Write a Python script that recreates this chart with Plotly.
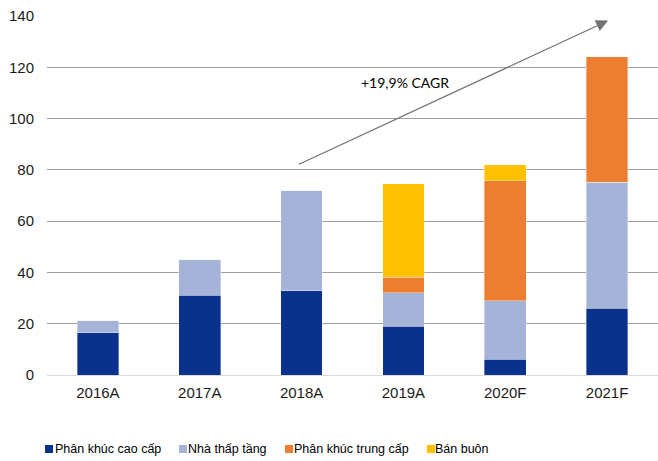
import plotly.graph_objects as go

categories = ["2016A", "2017A", "2018A", "2019A", "2020F", "2021F"]
series_names = ["Phân khúc cao cấp", "Nhà thấp tầng", "Phân khúc trung cấp", "Bán buôn"]
premium = [16.5, 31.1, 32.9, 19.1, 6.1, 26.0]
lowrise = [4.8, 14.0, 39.1, 13.0, 22.8, 49.1]
midrange = [0, 0, 0, 6.1, 46.9, 49.1]
wholesale = [0, 0, 0, 36.4, 6.1, 0]
colors = ["#0A318C", "#A6B3D8", "#ED7D31", "#FFC000"]
y_ticks = [0, 20, 40, 60, 80, 100, 120, 140]
cagr_label = "+19,9% CAGR"

W, H = 658, 461
ML, MR, MT, MB = 47, 0, 16, 86
PW, PH = W - ML - MR, H - MT - MB


def px_to_paper(px, py):
    return (px - ML) / PW, (H - MB - py) / PH


fig = go.Figure()
for name, vals, col in zip(series_names, [premium, lowrise, midrange, wholesale], colors):
    fig.add_trace(go.Bar(
        x=categories, y=vals, name=name,
        marker=dict(color=col, line=dict(color="rgba(255,255,255,0.6)", width=0.6)),
        width=0.41, showlegend=False,
    ))

fig.add_annotation(
    x=5.01, y=138.2, ax=1.96, ay=81.9,
    xref="x", yref="y", axref="x", ayref="y",
    showarrow=True, arrowhead=2, arrowsize=2.0, arrowwidth=1.2,
    arrowcolor="#767171", text="",
)
fig.add_annotation(
    x=3.02, y=113.9, xref="x", yref="y", text=cagr_label, showarrow=False,
    font=dict(family="Lato, Liberation Sans, sans-serif", size=14, color="#000000"),
)

# Legend (manual, to match the compact original layout)
legend_square_px = [45, 179, 285, 427]
legend_text_px = [56, 189, 295, 436]
legend_y_px = 449
for name, col, sx, tx in zip(series_names, colors, legend_square_px, legend_text_px):
    x0, y0 = px_to_paper(sx, legend_y_px + 4)
    x1, y1 = px_to_paper(sx + 8, legend_y_px - 4)
    fig.add_shape(type="rect", xref="paper", yref="paper", x0=x0, y0=y0, x1=x1, y1=y1,
                  fillcolor=col, line=dict(width=0))
    txp, typ = px_to_paper(tx, legend_y_px)
    fig.add_annotation(x=txp, y=typ, xref="paper", yref="paper", text=name, showarrow=False,
                       xanchor="left", yanchor="middle", xshift=-3,
                       font=dict(family="Liberation Sans, Arial, sans-serif",
                                 size=12.5, color="#000000"))

fig.update_layout(
    width=W, height=H,
    barmode="stack",
    plot_bgcolor="white", paper_bgcolor="white",
    margin=dict(l=ML, r=MR, t=MT, b=MB, autoexpand=False),
    font=dict(family="Liberation Sans, Arial, sans-serif", size=15, color="#1a1a1a"),
    showlegend=False,
    xaxis=dict(showgrid=False, showline=False, ticks="", tickfont=dict(size=15),
               ticklabelstandoff=7, automargin=False),
    yaxis=dict(
        range=[0, 140], tickvals=y_ticks, showgrid=True, gridcolor="#A0A0A0", gridwidth=1,
        zeroline=True, zerolinecolor="#D9D9D9", zerolinewidth=1, ticks="", ticklabelstandoff=12,
        tickfont=dict(size=15), automargin=False,
    ),
)

fig.write_html("out.html")
